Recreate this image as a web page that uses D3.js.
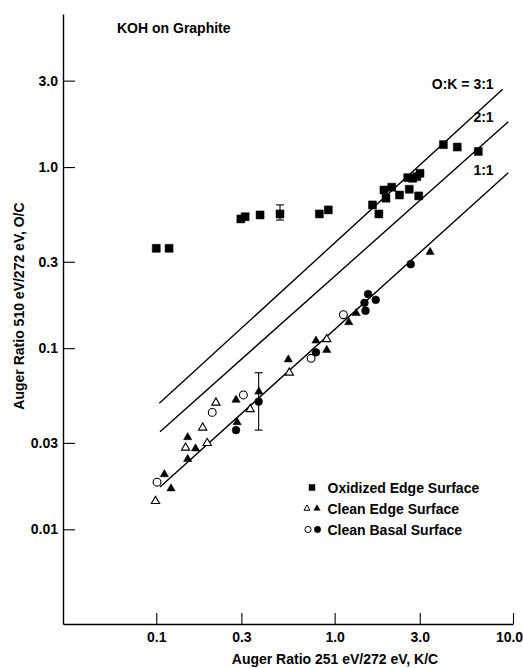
<!DOCTYPE html>
<html>
<head>
<meta charset="utf-8">
<script src="https://cdn.jsdelivr.net/npm/d3@7"></script>
<style>
  body { margin: 0; background: #fff; }
  svg text { font-family: "Liberation Sans", Arial, sans-serif; font-weight: bold; fill: #000; }
</style>
</head>
<body>
<div class="chart"></div>
<script>
const width = 523
const height = 668

// tick values / labels
const xTickValues = [0.1, 0.3, 1, 3, 10]
const xTickLabels = ["0.1", "0.3", "1.0", "3.0", "10.0"]
const yTickValues = [0.01, 0.03, 0.1, 0.3, 1, 3]
const yTickLabels = ["0.01", "0.03", "0.1", "0.3", "1.0", "3.0"]

// [K/C, O/C]
const oxidizedEdge = [
  [0.100, 0.356], [0.118, 0.356], [0.298, 0.517], [0.315, 0.532], [0.382, 0.544],
  [0.494, 0.551], [0.821, 0.551], [0.922, 0.580], [1.63, 0.618], [1.77, 0.551],
  [1.89, 0.747], [1.94, 0.673], [2.09, 0.774], [2.31, 0.701], [2.57, 0.874],
  [2.62, 0.754], [2.74, 0.867], [2.89, 0.885], [3.01, 0.924], [2.96, 0.693],
  [4.07, 1.33], [4.87, 1.29], [6.39, 1.22]
]
const cleanEdgeOpen = [
  [0.099, 0.0143], [0.146, 0.0282], [0.182, 0.0364], [0.193, 0.0299],
  [0.216, 0.050], [0.336, 0.046], [0.557, 0.0732], [0.903, 0.112]
]
const cleanEdgeFilled = [
  [0.111, 0.0201], [0.121, 0.0168], [0.150, 0.0322], [0.150, 0.0244], [0.166, 0.0279],
  [0.280, 0.0518], [0.284, 0.039], [0.376, 0.0575], [0.550, 0.0866], [0.786, 0.110],
  [0.903, 0.0977], [1.20, 0.139], [1.32, 0.156], [3.43, 0.339]
]
const cleanBasalOpen = [
  [0.101, 0.0182], [0.206, 0.0442], [0.308, 0.0552], [0.738, 0.0879], [1.12, 0.153]
]
const cleanBasalFilled = [
  [0.280, 0.0353], [0.375, 0.0507], [0.786, 0.0949], [1.47, 0.178],
  [1.49, 0.161], [1.54, 0.199], [1.70, 0.185], [2.67, 0.291]
]

// vertical error bars: [K/C, low O/C, high O/C]
const errorBars = [
  [0.494, 0.510, 0.618],
  [0.375, 0.0353, 0.0732]
]

// O:K reference lines, endpoints [K/C, O/C]
const ratioLabels = ["O:K = 3:1", "2:1", "1:1"]
const ratioStarts = [[0.104, 0.0496], [0.105, 0.0346], [0.105, 0.0171]]
const ratioEnds = [[8.75, 2.69], [9.41, 1.78], [9.41, 0.931]]

const legendLabels = ["Oxidized Edge Surface", "Clean Edge Surface", "Clean Basal Surface"]

const x = d3.scaleLog().domain([0.03, 10]).range([63, 513])
const y = d3.scaleLog().domain([0.003, 7]).range([624, 14])

const svg = d3.create("svg")
  .attr("width", width)
  .attr("height", height)
  .attr("viewBox", [0, 0, width, height])

// axes
const xAxis = d3.axisBottom(x)
  .tickValues(xTickValues)
  .tickFormat((d, i) => xTickLabels[i])
  .tickSizeInner(-11)
  .tickSizeOuter(0)
  .tickPadding(8)

const yAxis = d3.axisLeft(y)
  .tickValues(yTickValues)
  .tickFormat((d, i) => yTickLabels[i])
  .tickSizeInner(-12)
  .tickSizeOuter(0)
  .tickPadding(5)

const gx = svg.append("g")
  .attr("transform", "translate(0,624)")
  .call(xAxis)
const gy = svg.append("g")
  .attr("transform", "translate(63,0)")
  .call(yAxis)

for (const g of [gx, gy]) {
  g.attr("font-family", null).attr("font-size", null)
  g.selectAll("text").style("font-size", "14px")
  g.select(".domain").attr("stroke-width", 1.4)
  g.selectAll(".tick line").attr("stroke-width", 1.1)
}
// last x label sits against the right edge, nudge it in
gx.selectAll(".tick text").filter(d => d == 10).attr("dx", -4)

// titles
svg.append("text")
  .attr("x", 117).attr("y", 33)
  .style("font-size", "14px")
  .text("KOH on Graphite")

svg.append("text")
  .attr("x", 335).attr("y", 664)
  .attr("text-anchor", "middle")
  .style("font-size", "14px")
  .text("Auger Ratio 251 eV/272 eV, K/C")

svg.append("text")
  .attr("transform", "translate(24,306) rotate(-90)")
  .attr("text-anchor", "middle")
  .style("font-size", "14px")
  .text("Auger Ratio 510 eV/272 eV, O/C")

// ratio lines
const lineGen = d3.line().x(d => x(d[0])).y(d => y(d[1]))
const ratioG = svg.append("g")
ratioLabels.forEach((lab, i) => {
  ratioG.append("path")
    .attr("d", lineGen([ratioStarts[i], ratioEnds[i]]))
    .attr("fill", "none")
    .attr("stroke", "#000")
    .attr("stroke-width", 1.4)
  ratioG.append("text")
    .attr("x", x(ratioEnds[0][0]) - 9)
    .attr("y", y(ratioEnds[i][1]) + (i == 2 ? 2 : 0))
    .attr("text-anchor", "end")
    .style("font-size", "14px")
    .text(lab)
})

// error bars
const eb = svg.append("g").attr("stroke", "#000").attr("stroke-width", 1.1)
errorBars.forEach(d => {
  eb.append("line").attr("x1", x(d[0])).attr("x2", x(d[0])).attr("y1", y(d[1])).attr("y2", y(d[2]))
  eb.append("line").attr("x1", x(d[0]) - 4).attr("x2", x(d[0]) + 4).attr("y1", y(d[1])).attr("y2", y(d[1]))
  eb.append("line").attr("x1", x(d[0]) - 4).attr("x2", x(d[0]) + 4).attr("y1", y(d[2])).attr("y2", y(d[2]))
})

// markers
const square = d3.symbol(d3.symbolSquare, 64)
const triangle = d3.symbol(d3.symbolTriangle, 30)
const circle = d3.symbol(d3.symbolCircle, 48)

function drawPoints(data, sym, filled) {
  svg.append("g")
    .selectAll()
    .data(data)
    .join("path")
    .attr("transform", d => `translate(${x(d[0])},${y(d[1])})`)
    .attr("d", sym)
    .attr("fill", filled ? "#000" : "#fff")
    .attr("stroke", "#000")
    .attr("stroke-width", filled ? 0.5 : 1.1)
}

drawPoints(oxidizedEdge, square, true)
drawPoints(cleanEdgeOpen, triangle, false)
drawPoints(cleanEdgeFilled, triangle, true)
drawPoints(cleanBasalOpen, circle, false)
drawPoints(cleanBasalFilled, circle, true)

// legend
const legend = svg.append("g")
const legSym = [
  [[d3.symbolSquare, 36, 312, true]],
  [[d3.symbolTriangle, 16, 307, false], [d3.symbolTriangle, 18, 317, true]],
  [[d3.symbolCircle, 30, 308, false], [d3.symbolCircle, 32, 317.5, true]]
]
legendLabels.forEach((lab, i) => {
  const yy = 487.5 + i * 21
  legSym[i].forEach(s => {
    legend.append("path")
      .attr("transform", `translate(${s[2]},${yy})`)
      .attr("d", d3.symbol(s[0], s[1]))
      .attr("fill", s[3] ? "#000" : "#fff")
      .attr("stroke", "#000")
      .attr("stroke-width", s[3] ? 0.5 : 1)
  })
  legend.append("text")
    .attr("x", 327.5)
    .attr("y", yy + 5)
    .style("font-size", "14px")
    .text(lab)
})

document.querySelector(".chart").append(svg.node())
</script>
</body>
</html>
